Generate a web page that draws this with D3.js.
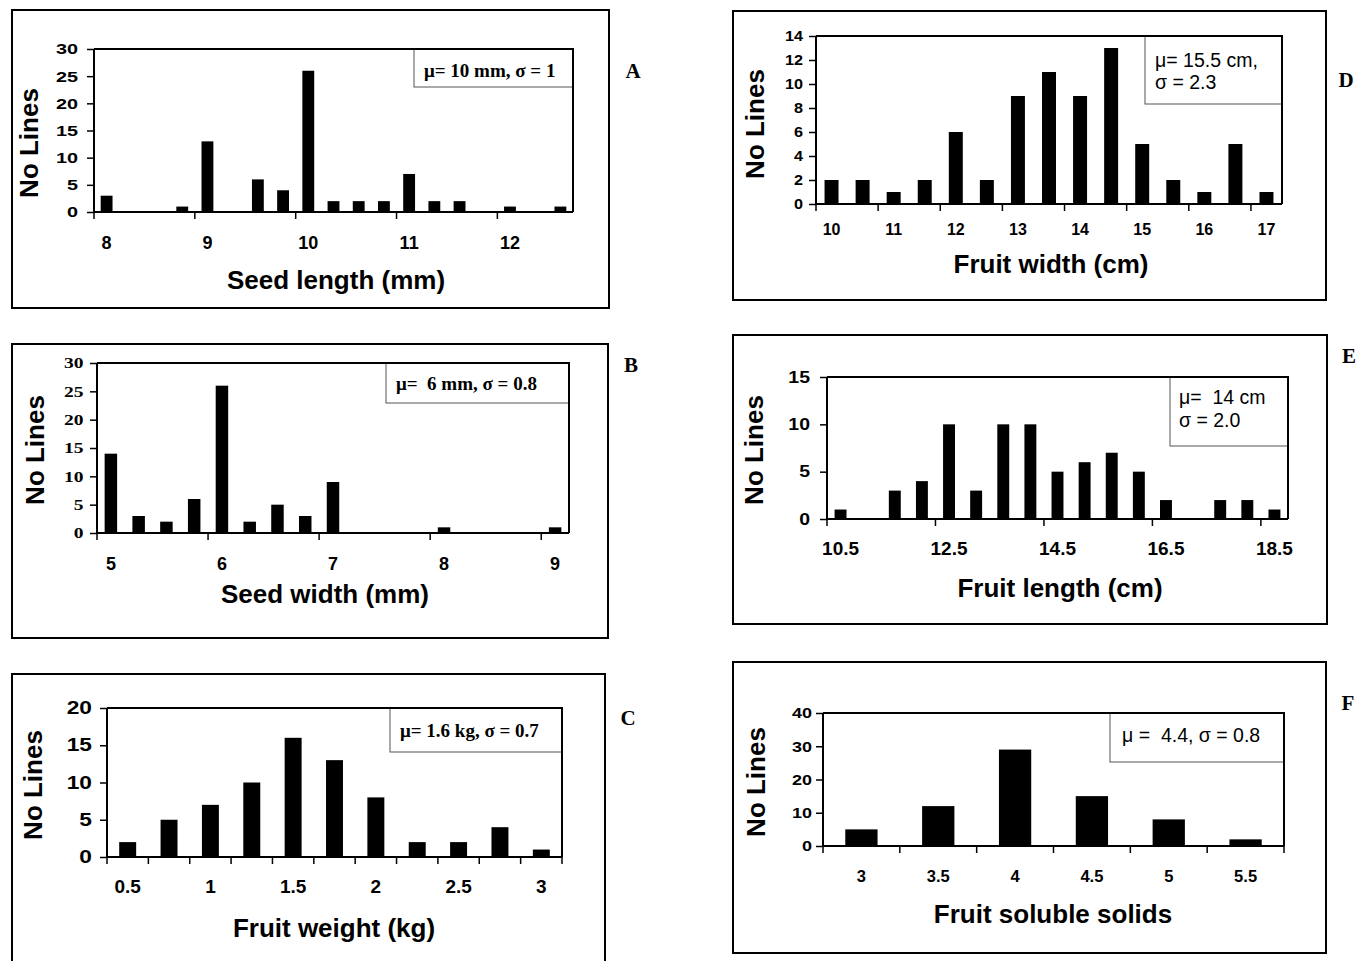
<!DOCTYPE html>
<html>
<head>
<meta charset="utf-8">
<script src="https://cdn.jsdelivr.net/npm/d3@7"></script>
<style>
  body { margin: 0; background: #fff; }
  text { white-space: pre; }
</style>
</head>
<body>
<svg id="fig" width="1358" height="961"></svg>
<script>
// A - seed length
var seedLengthBins = [8, 8.25, 8.5, 8.75, 9, 9.25, 9.5, 9.75, 10, 10.25, 10.5, 10.75, 11, 11.25, 11.5, 11.75, 12, 12.25, 12.5];
var seedLengthCounts = [3, 0, 0, 1, 13, 0, 6, 4, 26, 2, 2, 2, 7, 2, 2, 0, 1, 0, 1];
var seedLengthLabels = [8, 9, 10, 11, 12];
var seedLengthYTicks = [0, 5, 10, 15, 20, 25, 30];
var seedLengthStats = ["μ= 10 mm, σ = 1"];

// B - seed width
var seedWidthBins = [5, 5.25, 5.5, 5.75, 6, 6.25, 6.5, 6.75, 7, 7.25, 7.5, 7.75, 8, 8.25, 8.5, 8.75, 9];
var seedWidthCounts = [14, 3, 2, 6, 26, 2, 5, 3, 9, 0, 0, 0, 1, 0, 0, 0, 1];
var seedWidthLabels = [5, 6, 7, 8, 9];
var seedWidthYTicks = [0, 5, 10, 15, 20, 25, 30];
var seedWidthStats = ["μ=  6 mm, σ = 0.8"];

// C - fruit weight
var fruitWeightBins = [0.5, 0.75, 1, 1.25, 1.5, 1.75, 2, 2.25, 2.5, 2.75, 3];
var fruitWeightCounts = [2, 5, 7, 10, 16, 13, 8, 2, 2, 4, 1];
var fruitWeightLabels = [0.5, 1, 1.5, 2, 2.5, 3];
var fruitWeightYTicks = [0, 5, 10, 15, 20];
var fruitWeightStats = ["μ= 1.6 kg, σ = 0.7"];

// D - fruit width
var fruitWidthBins = [10, 10.5, 11, 11.5, 12, 12.5, 13, 13.5, 14, 14.5, 15, 15.5, 16, 16.5, 17];
var fruitWidthCounts = [2, 2, 1, 2, 6, 2, 9, 11, 9, 13, 5, 2, 1, 5, 1];
var fruitWidthLabels = [10, 11, 12, 13, 14, 15, 16, 17];
var fruitWidthYTicks = [0, 2, 4, 6, 8, 10, 12, 14];
var fruitWidthStats = ["μ= 15.5 cm,", "σ = 2.3"];

// E - fruit length
var fruitLengthBins = [10.5, 11, 11.5, 12, 12.5, 13, 13.5, 14, 14.5, 15, 15.5, 16, 16.5, 17, 17.5, 18, 18.5];
var fruitLengthCounts = [1, 0, 3, 4, 10, 3, 10, 10, 5, 6, 7, 5, 2, 0, 2, 2, 1];
var fruitLengthLabels = [10.5, 12.5, 14.5, 16.5, 18.5];
var fruitLengthYTicks = [0, 5, 10, 15];
var fruitLengthStats = ["μ=  14 cm", "σ = 2.0"];

// F - fruit soluble solids
var solidsBins = [3, 3.5, 4, 4.5, 5, 5.5];
var solidsCounts = [5, 12, 29, 15, 8, 2];
var solidsLabels = [3, 3.5, 4, 4.5, 5, 5.5];
var solidsYTicks = [0, 10, 20, 30, 40];
var solidsStats = ["μ =  4.4, σ = 0.8"];

var SANS = "'Liberation Sans', Arial, sans-serif";
var SERIF = "'Liberation Serif', 'Times New Roman', serif";

// layout of each panel (frame, plot area, fonts)
// yFont: [family, size, horizontal stretch]
var panels = [
  { letter: "A", bins: seedLengthBins, counts: seedLengthCounts, labels: seedLengthLabels, yTicks: seedLengthYTicks,
    stats: seedLengthStats, xTitle: "Seed length (mm)",
    frame: [12, 10, 609, 308], plot: [94, 49, 573, 212], pad: 0.53, every: 4,
    yFont: [SANS, 15.5, 1.28], xFont: 18, xLabelDy: 37, yGap: 16,
    title: [336, 289, 26], yTitle: [29, 143, 26],
    box: [414, 87], statsAt: [424, 77, 19, SERIF, "bold", 22], letterAt: [633, 78] },
  { letter: "B", bins: seedWidthBins, counts: seedWidthCounts, labels: seedWidthLabels, yTicks: seedWidthYTicks,
    stats: seedWidthStats, xTitle: "Seed width (mm)",
    frame: [12, 344, 608, 638], plot: [97, 363, 569, 533], pad: 0.55, every: 4,
    yFont: [SERIF, 15, 1.3], xFont: 18, xLabelDy: 37, yGap: 13.5,
    title: [325, 603, 26], yTitle: [35, 450, 26],
    box: [386, 403], statsAt: [396, 390, 19, SERIF, "bold", 22], letterAt: [631, 372] },
  { letter: "C", bins: fruitWeightBins, counts: fruitWeightCounts, labels: fruitWeightLabels, yTicks: fruitWeightYTicks,
    stats: fruitWeightStats, xTitle: "Fruit weight (kg)",
    frame: [12, 674, 605, 975], plot: [107, 708, 562, 857], pad: 0.59, every: 1,
    yFont: [SANS, 17.5, 1.3], xFont: 19, xLabelDy: 36, yGap: 15,
    title: [334, 937, 26], yTitle: [33, 785, 26],
    box: [390, 752], statsAt: [400, 737, 19, SERIF, "bold", 22], letterAt: [628, 725] },
  { letter: "D", bins: fruitWidthBins, counts: fruitWidthCounts, labels: fruitWidthLabels, yTicks: fruitWidthYTicks,
    stats: fruitWidthStats, xTitle: "Fruit width (cm)",
    frame: [733, 11, 1326, 300], plot: [816, 36, 1282, 204], pad: 0.55, every: 2,
    yFont: [SANS, 14.5, 1.12], xFont: 16, xLabelDy: 31, yGap: 13,
    title: [1051, 273, 26], yTitle: [755, 124, 26],
    box: [1145, 104], statsAt: [1155, 67, 19.5, SANS, "normal", 22], letterAt: [1346, 87] },
  { letter: "E", bins: fruitLengthBins, counts: fruitLengthCounts, labels: fruitLengthLabels, yTicks: fruitLengthYTicks,
    stats: fruitLengthStats, xTitle: "Fruit length (cm)",
    frame: [733, 335, 1327, 624], plot: [827, 377, 1288, 519], pad: 0.56, every: 4,
    yFont: [SANS, 16.5, 1.18], xFont: 19, xLabelDy: 36, yGap: 17,
    title: [1060, 597, 26], yTitle: [754, 450, 26],
    box: [1170, 446], statsAt: [1179, 404, 19.5, SANS, "normal", 23], letterAt: [1349, 363] },
  { letter: "F", bins: solidsBins, counts: solidsCounts, labels: solidsLabels, yTicks: solidsYTicks,
    stats: solidsStats, xTitle: "Fruit soluble solids",
    frame: [733, 662, 1326, 953], plot: [823, 713, 1284, 846], pad: 0.58, every: 1,
    yFont: [SANS, 15, 1.2], xFont: 16.5, xLabelDy: 36, yGap: 11,
    title: [1053, 923, 26], yTitle: [756, 782, 26],
    box: [1110, 762], statsAt: [1122, 742, 19.5, SANS, "normal", 22], letterAt: [1348, 710] }
];

var svg = d3.select("#fig");

panels.forEach(function(p) {
  var g = svg.append("g");
  var x0 = p.plot[0], y0 = p.plot[1], x1 = p.plot[2], y1 = p.plot[3];

  // outer frame
  g.append("rect")
    .attr("x", p.frame[0]).attr("y", p.frame[1])
    .attr("width", p.frame[2] - p.frame[0]).attr("height", p.frame[3] - p.frame[1])
    .attr("fill", "none").attr("stroke", "#000").attr("stroke-width", 2);

  var x = d3.scaleBand()
    .domain(p.bins)
    .range([x0, x1])
    .paddingInner(p.pad)
    .paddingOuter(p.pad / 2);

  var y = d3.scaleLinear()
    .domain([0, d3.max(p.yTicks)])
    .range([y1, y0]);

  // stats box (top-right corner of plot area)
  g.append("rect")
    .attr("x", p.box[0]).attr("y", y0)
    .attr("width", x1 - p.box[0]).attr("height", p.box[1] - y0)
    .attr("fill", "#fff").attr("stroke", "#555").attr("stroke-width", 1);

  g.selectAll(".stat")
    .data(p.stats)
    .enter().append("text")
    .attr("x", p.statsAt[0])
    .attr("y", function(d, i) { return p.statsAt[1] + i * p.statsAt[5]; })
    .attr("font-family", p.statsAt[3])
    .attr("font-weight", p.statsAt[4])
    .attr("font-size", p.statsAt[2])
    .text(function(d) { return d; });

  // bars
  var rows = p.bins.map(function(b, i) { return { bin: b, n: p.counts[i] }; });
  g.selectAll(".bar")
    .data(rows.filter(function(d) { return d.n > 0; }))
    .enter().append("rect")
    .attr("x", function(d) { return x(d.bin); })
    .attr("y", function(d) { return y(d.n); })
    .attr("width", x.bandwidth())
    .attr("height", function(d) { return y(0) - y(d.n); })
    .attr("fill", "#000");

  // plot area border (top + right)
  g.append("path")
    .attr("d", "M" + x0 + "," + y0 + "H" + x1 + "V" + y1)
    .attr("fill", "none").attr("stroke", "#000").attr("stroke-width", 2);

  // y axis - the scanned labels are wider than the font, so stretch them
  var sx = p.yFont[2];
  var ya = g.append("g")
    .attr("transform", "translate(" + x0 + ",0)")
    .call(d3.axisLeft(y).tickValues(p.yTicks).tickSize(7));
  ya.select(".domain").remove();
  ya.selectAll("line").attr("stroke", "#000").attr("stroke-width", 1.5);
  ya.selectAll("text")
    .attr("x", -p.yGap / sx)
    .attr("transform", "scale(" + sx + ",1)")
    .attr("font-family", p.yFont[0]).attr("font-weight", "bold").attr("font-size", p.yFont[1])
    .attr("fill", "#000");

  // x labels centred under their bins
  var xa = g.append("g")
    .attr("transform", "translate(0," + y1 + ")")
    .call(d3.axisBottom(x).tickValues(p.labels).tickSize(0));
  xa.select(".domain").remove();
  xa.selectAll("text")
    .attr("y", p.xLabelDy).attr("dy", null)
    .attr("font-family", SANS).attr("font-weight", "bold").attr("font-size", p.xFont)
    .attr("fill", "#000");

  // x tick marks sit on the bin boundaries
  var step = x.step();
  var marks = d3.range(0, p.bins.length + 1, p.every);
  g.selectAll(".xtick")
    .data(marks)
    .enter().append("line")
    .attr("x1", function(i) { return x0 + i * step; })
    .attr("x2", function(i) { return x0 + i * step; })
    .attr("y1", y1).attr("y2", y1 + 7)
    .attr("stroke", "#000").attr("stroke-width", 1.5);

  // axis lines
  g.append("path")
    .attr("d", "M" + x0 + "," + y0 + "V" + y1 + "H" + x1)
    .attr("fill", "none").attr("stroke", "#000").attr("stroke-width", 2);

  // titles
  g.append("text")
    .attr("x", p.title[0]).attr("y", p.title[1])
    .attr("text-anchor", "middle")
    .attr("font-family", SANS).attr("font-weight", "bold").attr("font-size", p.title[2])
    .text(p.xTitle);

  g.append("text")
    .attr("transform", "translate(" + p.yTitle[0] + "," + p.yTitle[1] + ") rotate(-90)")
    .attr("text-anchor", "middle")
    .attr("dominant-baseline", "central")
    .attr("font-family", SANS).attr("font-weight", "bold").attr("font-size", p.yTitle[2])
    .text("No Lines");

  g.append("text")
    .attr("x", p.letterAt[0]).attr("y", p.letterAt[1])
    .attr("text-anchor", "middle")
    .attr("font-family", SERIF).attr("font-weight", "bold").attr("font-size", 21)
    .text(p.letter);
});
</script>
</body>
</html>
